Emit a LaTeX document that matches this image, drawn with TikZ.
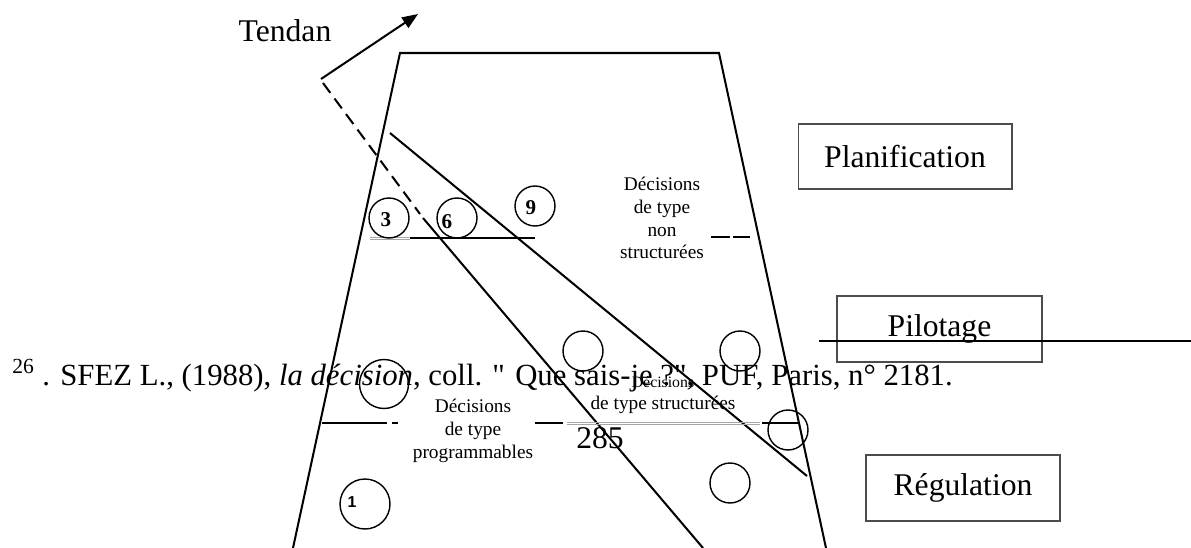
\documentclass[tikz,border=0pt]{standalone}
\usepackage{fontspec}
\setmainfont{Liberation Serif}
\setsansfont{Liberation Sans}
\usetikzlibrary{arrows.meta}

\tikzset{
  biglabel/.style={font=\fontsize{18}{21}\selectfont},
  levelbox/.style={draw=black!70, line width=0.6pt, biglabel, inner sep=0pt},
  smalltext/.style={font=\fontsize{11}{13}\selectfont, align=center},
  numcircle/.style={circle, draw, line width=0.8pt, minimum size=0.8cm, inner sep=0pt},
  numtext/.style={font=\bfseries\fontsize{12}{12}\selectfont, inner sep=0pt},
  edge/.style={line width=1.15pt},
}

\begin{document}
\begin{tikzpicture}[x=0.02cm, y=-0.02cm]
\useasboundingbox (0,0) rectangle (1191,548);

% Trapezoid
\draw[edge, line join=miter] (293,548) -- (400,53) -- (719,53) -- (826,548);

% Trend arrow and oblique lines
\coordinate (arrowstart) at (321,79);
\coordinate (arrowtip) at (418,14);
\draw[edge, -{Triangle[length=9pt,width=7pt]}] (arrowstart) -- (arrowtip);
\draw[edge, dash pattern=on 7pt off 4pt] (323,83) -- (420,214);
\draw[edge] (423,218) -- (703,548);
\draw[edge] (390,133) -- (807,476);

% Upper separator
\draw[gray!70, line width=0.3pt] (370,237) -- (410,237) (370,239.5) -- (410,239.5);
\draw[edge] (410,238) -- (535,238);
\draw[edge] (711,237) -- (730,237);
\draw[edge] (733,237) -- (750,237);

% Lower separator
\draw[edge] (322,423) -- (387,423);
\draw[edge] (392,423) -- (398,423);
\draw[edge] (535,423) -- (563,423);
\draw[gray!70, line width=0.3pt] (567,422) -- (760,422) (567,424.5) -- (760,424.5);
\draw[edge] (762,423) -- (798,423);

% Circles
\node[numcircle] (c3) at (389,218) {};
\node[numcircle] (c6) at (457,218) {};
\node[numcircle] (c9) at (535,206) {};
\node[numcircle, minimum size=0.98cm] (c4) at (384,384) {};
\node[numcircle] (c5) at (583,351) {};
\node[numcircle] (c8) at (740,351) {};
\node[numcircle] (c7) at (788,430) {};
\node[numcircle] (c2) at (730,483) {};
\node[numcircle, minimum size=1cm] (c1) at (365,504) {};
\node[numtext] (n3) at (386,220) {3};
\node[numtext] (n6) at (447,222) {6};
\node[numtext] (n9) at (531,208) {9};
\node[numtext, font=\sffamily\bfseries\fontsize{9}{9}\selectfont] (n1) at (352,502) {1};

% Labels
\node[biglabel] (tendan) at (285,31) {Tendan};
\node[levelbox, minimum width=4.28cm, minimum height=1.3cm] (planif) at (905,156.5) {Planification};
\node[levelbox, minimum width=4.1cm, minimum height=1.32cm] (pilot) at (939.5,329) {Pilotage};
\node[levelbox, minimum width=3.88cm, minimum height=1.32cm] (regul) at (963,488) {Régulation};
\coordinate (pilotend) at (1191,341);
\draw[edge] (819,341) -- (pilotend);

\node[smalltext] (nonstruct) at (662,218) {Décisions\\de type\\non\\structurées};
\node[smalltext] (prog) at (473,431) {Décisions\\de type\\programmables};
\node[font=\fontsize{9}{10}\selectfont] (struct1) at (663,382) {Décisions};
\node[smalltext] (struct2) at (663,405) {de type structurées};
\node[biglabel] (page) at (600,438) {285};

% Footnote
\node[anchor=base west, inner sep=0pt, font=\fontsize{17.5}{20}\selectfont] (footnote) at (12,385)
  {\textsuperscript{26} . SFEZ L., (1988), \textit{la décision}, coll. \textquotedbl{} Que sais-je ?\textquotedbl, PUF, Paris, n° 2181.};
\end{tikzpicture}
\end{document}
